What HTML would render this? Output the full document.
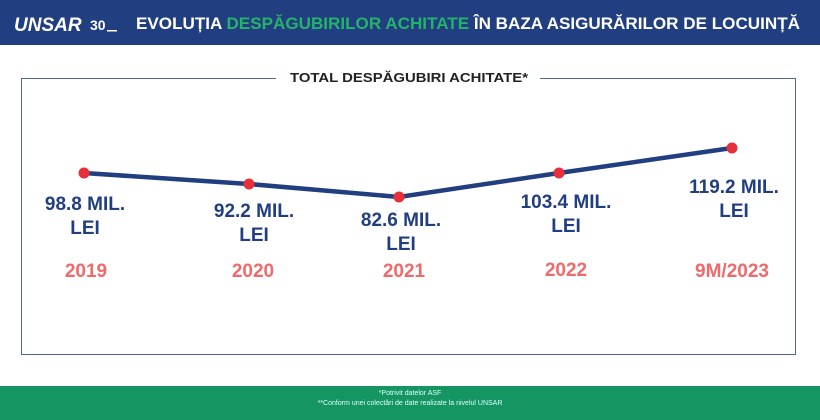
<!DOCTYPE html>
<html><head><meta charset="utf-8"><style>
body{margin:0;width:820px;height:420px;overflow:hidden;background:#fff;font-family:"Liberation Sans",sans-serif;}
.hdr{position:absolute;left:0;top:0;width:820px;height:45px;background:#213f80;}
.ftr{position:absolute;left:0;top:386px;width:820px;height:34px;background:#149562;color:#dff;font-size:7px;text-align:center;line-height:10px;padding-top:3px;box-sizing:border-box;}
.box{position:absolute;left:21px;top:78px;width:775px;height:277px;border:1.5px solid #51668f;box-sizing:border-box;}
</style></head><body>
<div class="hdr"></div>
<svg width="820" height="420" style="position:absolute;left:0;top:0">
<text x="14" y="31" font-family="Liberation Sans" font-weight="bold" font-size="19" fill="#fff" font-style="italic">UNSAR</text>
<text x="90" y="30" font-family="Liberation Sans" font-weight="bold" font-size="14" fill="#fff">30</text>
<rect x="107" y="30" width="10" height="1.5" fill="#fff"/>
<text x="136" y="29" font-family="Liberation Sans" font-weight="bold" font-size="17" fill="#fff" textLength="664" lengthAdjust="spacingAndGlyphs">EVOLUȚIA <tspan fill="#23b36a">DESPĂGUBIRILOR ACHITATE</tspan> ÎN BAZA ASIGURĂRILOR DE LOCUINȚĂ</text>
</svg>
<div class="box"></div>
<svg width="820" height="420" style="position:absolute;left:0;top:0">
<rect x="276" y="68" width="264" height="20" fill="#fff"/>
<text x="409" y="82" text-anchor="middle" font-family="Liberation Sans" font-weight="bold" font-size="13" fill="#222" textLength="238" lengthAdjust="spacingAndGlyphs">TOTAL DESPĂGUBIRI ACHITATE*</text>
<polyline points="84,173 249,184 399,197 559,173 732,148" fill="none" stroke="#213f80" stroke-width="4.5"/>
<g fill="#e8303a"><circle cx="84" cy="173" r="5.5"/><circle cx="249" cy="184" r="5.5"/><circle cx="399" cy="197" r="5.5"/><circle cx="559" cy="173" r="5.5"/><circle cx="732" cy="148" r="5.5"/></g>
<g font-family="Liberation Sans" font-weight="bold" font-size="19" fill="#213f80" text-anchor="middle">
<text x="85" y="210">98.8 MIL.</text><text x="85" y="234">LEI</text>
<text x="254" y="217">92.2 MIL.</text><text x="254" y="241">LEI</text>
<text x="401" y="226">82.6 MIL.</text><text x="401" y="250">LEI</text>
<text x="566" y="208">103.4 MIL.</text><text x="566" y="232">LEI</text>
<text x="734" y="193">119.2 MIL.</text><text x="734" y="217">LEI</text>
</g>
<g font-family="Liberation Sans" font-weight="bold" font-size="19" fill="#ef6a6a" text-anchor="middle">
<text x="86" y="277">2019</text><text x="253" y="277">2020</text><text x="404" y="277">2021</text><text x="566" y="276">2022</text><text x="732" y="277">9M/2023</text>
</g>
</svg>
<div class="ftr">*Potrivit datelor ASF<br>**Conform unei colectări de date realizate la nivelul UNSAR</div>
</body></html>
